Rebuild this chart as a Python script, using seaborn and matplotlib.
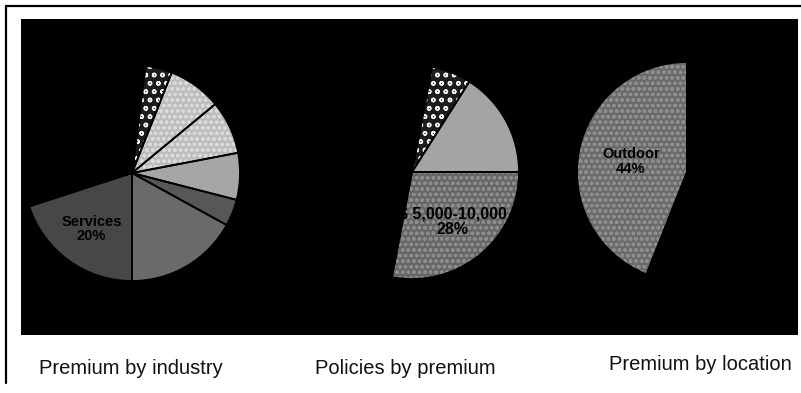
import matplotlib
matplotlib.use("Agg")
import matplotlib.pyplot as plt
from matplotlib.lines import Line2D
import seaborn as sns

# ---- data ----
industry_names = ["Services", "Manufacturing", "Retail", "Construction",
                  "Wholesale", "Transportation", "Agriculture", "Other"]
industry_values = [20, 17, 4, 7, 8, 8, 4, 32]
industry_shown = ["Services", "", "", "", "", "", "", ""]

premium_names = ["$ 10,000-25,000", "Over $ 25,000", "Under $ 5,000", "$ 5,000-10,000"]
premium_values = [16, 6, 50, 28]
premium_shown = ["", "", "", "\\$ 5,000-10,000"]

location_names = ["Outdoor", "Indoor"]
location_values = [44, 56]
location_shown = ["Outdoor", ""]

titles = ["Premium by industry", "Policies by premium", "Premium by location"]

# ---- styles ----
industry_colors = ["#474747", "#6a6a6a", "#575757", "#a6a6a6", "#bcbcbc", "#bcbcbc", "#1c1c1c", "#000000"]
industry_hatch = ["", "", "", "", "ooo", "ooo", "oo", ""]
industry_hcol = ["none", "none", "none", "none", "#dadada", "#dadada", "#f2f2f2", "none"]

premium_colors = ["#a4a4a4", "#1c1c1c", "#000000", "#666666"]
premium_hatch = ["", "oo", "", "ooo"]
premium_hcol = ["none", "#f2f2f2", "none", "#8c8c8c"]

location_colors = ["#6a6a6a", "#000000"]
location_hatch = ["ooo", ""]
location_hcol = ["#8e8e8e", "none"]

sns.set_theme(style="white")
plt.rcParams['font.family'] = ['Liberation Sans', 'DejaVu Sans']
plt.rcParams['hatch.linewidth'] = 1.0

W, H = 801, 393
L, R, T, B = 21, 798, 19, 335
fig = plt.figure(figsize=(W / 100, H / 100), dpi=100, facecolor="white")
ax = fig.add_axes([L / W, 1 - B / H, (R - L) / W, (B - T) / H])
ax.set_facecolor("black")


def draw_pie(values, shown, center, radius, start, colors, hatches, hcols, pctdist, fsize):
    # fill
    ax.pie(values, colors=colors, startangle=start, center=center, radius=radius,
           frame=True, wedgeprops=dict(linewidth=0))
    # hatch overlay
    hw, _ = ax.pie(values, colors=["none"] * len(values), startangle=start,
                   center=center, radius=radius, frame=True, hatch=hatches,
                   wedgeprops=dict(linewidth=0))
    for w, hc in zip(hw, hcols):
        w.set_edgecolor(hc)
        w.set_linewidth(0)
    # outlines + labels
    names = iter(shown)

    def fmt(p):
        n = next(names)
        return f"{n}\n{p:.0f}%" if n else ""

    ax.pie(values, colors=["none"] * len(values), startangle=start,
           center=center, radius=radius, frame=True, autopct=fmt,
           pctdistance=pctdist,
           wedgeprops=dict(edgecolor="black", linewidth=1.3),
           textprops=dict(color="black", fontsize=fsize, fontweight="bold",
                          linespacing=1.05))


draw_pie(industry_values, industry_shown, (132, 220), 108, 198,
         industry_colors, industry_hatch, industry_hcol, 0.64, 10.5)
draw_pie(premium_values, premium_shown, (412, 221), 107, 0,
         premium_colors, premium_hatch, premium_hcol, 0.6, 11.5)
draw_pie(location_values, location_shown, (687, 221), 110, 90,
         location_colors, location_hatch, location_hcol, 0.52, 10.5)

ax.set_xlim(L, R)
ax.set_ylim(H - B, H - T)
ax.set_aspect("equal")
ax.set_xticks([])
ax.set_yticks([])
for s in ax.spines.values():
    s.set_visible(False)

# frame lines
fig.add_artist(Line2D([6 / W, 6 / W], [1 - 6 / H, 1 - 383 / H], color="black",
                      lw=1.6, transform=fig.transFigure))
fig.add_artist(Line2D([6 / W, 1.0], [1 - 6 / H, 1 - 6 / H], color="black",
                      lw=1.6, transform=fig.transFigure))

title_x = [131, 405, 700]
title_base = [374, 374, 370]
for t, x, yb in zip(titles, title_x, title_base):
    fig.text(x / W, 1 - yb / H, t, ha="center", va="baseline", fontsize=14.5,
             color="#111111")

fig.savefig("out.png", dpi=100, facecolor="white")
